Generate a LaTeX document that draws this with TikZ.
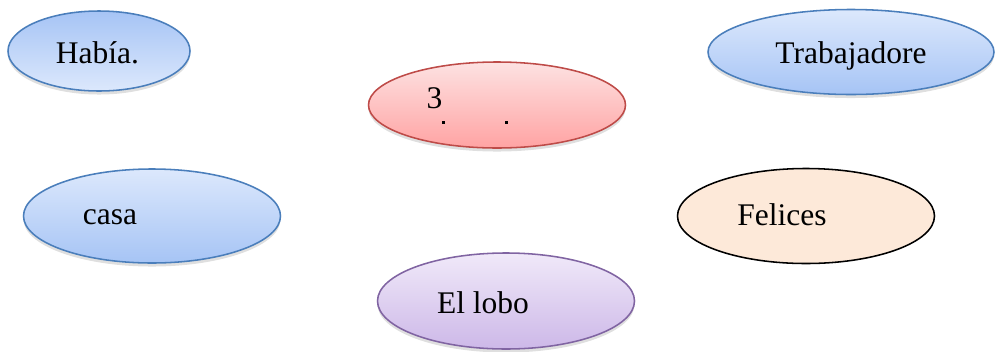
\documentclass[tikz,border=0pt]{standalone}
\usepackage{fontspec}
\setmainfont{Liberation Serif}
\usetikzlibrary{shapes.geometric, shadows}
\definecolor{blueline}{RGB}{74, 126, 187}
\definecolor{bluedark}{RGB}{166, 196, 245}
\definecolor{bluelight}{RGB}{220, 232, 252}
\definecolor{redline}{RGB}{190, 75, 72}
\definecolor{reddark}{RGB}{255, 163, 163}
\definecolor{redlight}{RGB}{253, 226, 226}
\definecolor{purpleline}{RGB}{128, 100, 162}
\definecolor{purpledark}{RGB}{205, 184, 232}
\definecolor{purplelight}{RGB}{240, 233, 249}
\definecolor{peach}{RGB}{253, 233, 217}
\begin{document}
\begin{tikzpicture}[x=0.025cm, y=-0.025cm,
    bubble/.style={ellipse, inner sep=0pt, line width=1.1pt,
      drop shadow={shadow xshift=0pt, shadow yshift=-2.5pt, opacity=0.25}},
    word/.style={anchor=base, font=\fontsize{22.4}{26}\selectfont}]
      \useasboundingbox (0,0) rectangle (995,351);
      % Ellipses
      \node[bubble, draw=blueline, top color=bluedark, bottom color=bluelight,
        minimum width=182*0.025cm, minimum height=80*0.025cm] (habia) at (99,51) {};
      \node[bubble, draw=redline, top color=redlight, bottom color=reddark,
        minimum width=257*0.025cm, minimum height=86*0.025cm] (tres) at (497,105) {};
      \node[bubble, draw=blueline, top color=bluelight, bottom color=bluedark,
        minimum width=286*0.025cm, minimum height=85*0.025cm] (trabajadore) at (851,52) {};
      \node[bubble, draw=blueline, top color=bluelight, bottom color=bluedark,
        minimum width=257*0.025cm, minimum height=94*0.025cm] (casa) at (152,216) {};
      \node[ellipse, inner sep=0pt, line width=1.1pt, draw=black, fill=peach,
        minimum width=257*0.025cm, minimum height=95*0.025cm] (felices) at (806,216) {};
      \node[bubble, draw=purpleline, top color=purplelight, bottom color=purpledark,
        minimum width=257*0.025cm, minimum height=96*0.025cm] (lobo) at (506,301) {};
      % Words
      \node[word] (habiaText) at (97.5,63) {Había.};
      \node[word] (tresText) at (434.5,108) {3};
      \node[word] (trabajadoreText) at (851,63) {Trabajadore};
      \node[word] (casaText) at (110,224) {casa};
      \node[word] (felicesText) at (782,225) {Felices};
      \node[word] (loboText) at (483,313) {El lobo};
      % Clipped marks
      \fill (442,121) rectangle (445,124);
      \fill (505,121) rectangle (508,124);
    \end{tikzpicture}
\end{document}
